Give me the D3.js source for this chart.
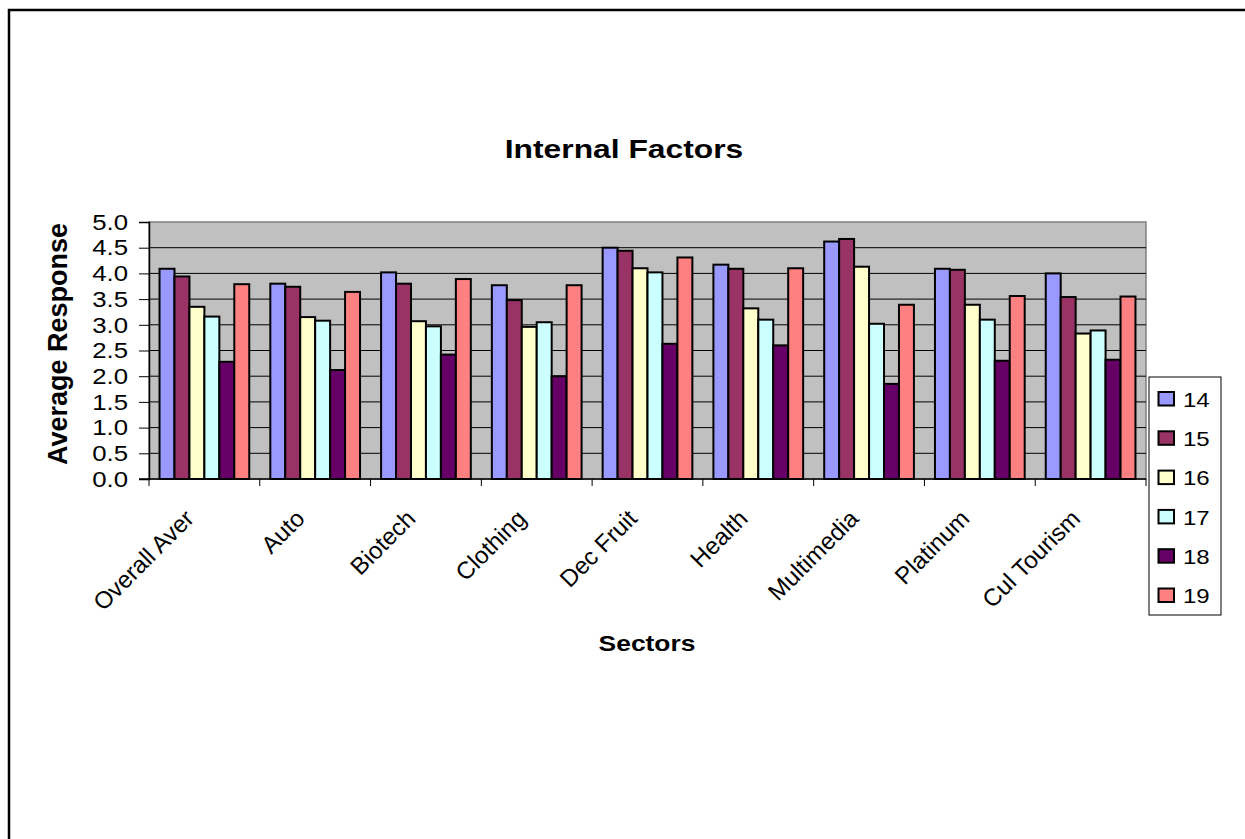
<!DOCTYPE html>
<html><head><meta charset="utf-8">
<script src="https://cdn.jsdelivr.net/npm/d3@7"></script>
<style>body{margin:0;background:#fff;}svg{display:block;}text{font-family:Arial,"Liberation Sans",sans-serif;fill:#000;}</style>
</head><body>
<svg id="chart" width="1245" height="839"></svg>
<script>
const categories = ["Overall Aver","Auto","Biotech","Clothing","Dec Fruit","Health","Multimedia","Platinum","Cul Tourism"];
const seriesNames = ["14","15","16","17","18","19"];
const s14 = [4.09,3.80,4.02,3.77,4.50,4.17,4.62,4.09,4.00];
const s15 = [3.94,3.74,3.80,3.48,4.44,4.09,4.67,4.07,3.54];
const s16 = [3.35,3.15,3.07,2.96,4.10,3.32,4.13,3.39,2.83];
const s17 = [3.16,3.08,2.97,3.05,4.02,3.10,3.02,3.10,2.89];
const s18 = [2.28,2.12,2.42,2.00,2.63,2.60,1.85,2.30,2.32];
const s19 = [3.79,3.64,3.89,3.77,4.31,4.10,3.39,3.56,3.55];
const yTicks = [0,0.5,1,1.5,2,2.5,3,3.5,4,4.5,5];
const colors = ["#9999FF","#993366","#FFFFCC","#CCFFFF","#660066","#FF8080"];
const seriesValues = [s14,s15,s16,s17,s18,s19];

const SX = 1.2; // horizontal stretch of text seen in the reference
const svg = d3.select("#chart");
function stext(parent, x, y, str, size, opts={}) {
  const g = parent.append("g").attr("transform", `translate(${x},${y}) scale(${opts.sx||SX},1)`);
  return g.append("text").attr("font-size", size)
    .attr("font-weight", opts.bold ? "bold" : "normal")
    .attr("text-anchor", opts.anchor || "start").text(str);
}

// outer chart border (left & top visible)
svg.append("rect").attr("x",9).attr("y",10).attr("width",1300).attr("height",900)
  .attr("fill","#fff").attr("stroke","#000").attr("stroke-width",2.5);

const L=149,R=1146,T=222,B=479;
const x0 = d3.scaleBand().domain(categories).range([L,R]).padding(0);
const gap = 0.19;
const x1 = d3.scaleBand().domain(seriesNames)
  .range([x0.bandwidth()*gap/2, x0.bandwidth()*(1-gap/2)]).padding(0);
const y = d3.scaleLinear().domain([0,5]).range([B,T]);

// plot area
svg.append("rect").attr("x",L).attr("y",T).attr("width",R-L).attr("height",B-T)
  .attr("fill","#C0C0C0").attr("stroke","#808080").attr("stroke-width",1.5);
// gridlines
svg.append("g").selectAll("line").data(yTicks.filter(d=>d>0&&d<5)).join("line")
  .attr("x1",L).attr("x2",R).attr("y1",d=>y(d)).attr("y2",d=>y(d))
  .attr("stroke","#000").attr("stroke-width",1);

// bars
const gGroups = svg.append("g").selectAll("g").data(categories).join("g")
  .attr("transform",d=>`translate(${x0(d)},0)`);
gGroups.selectAll("rect").data((c,ci)=>seriesNames.map((s,si)=>({s,si,v:seriesValues[si][ci]}))).join("rect")
  .attr("x",d=>x1(d.s)).attr("width",x1.bandwidth())
  .attr("y",d=>y(d.v)).attr("height",d=>B-y(d.v))
  .attr("fill",d=>colors[d.si]).attr("stroke","#000").attr("stroke-width",2);

// y axis (ticks + line via d3 axis, labels stretched)
const yAxis = d3.axisLeft(y).tickValues(yTicks).tickFormat("").tickSize(10);
const ga = svg.append("g").attr("transform",`translate(${L},0)`).call(yAxis);
ga.select(".domain").attr("stroke","#000").attr("stroke-width",1.5);
ga.selectAll(".tick line").attr("stroke","#000");
const yl = svg.append("g");
yTicks.forEach(t => stext(yl, 128, y(t)+7.7, d3.format(".1f")(t), 21.5, {anchor:"end"}));

// x axis
const xb = svg.append("g");
xb.append("line").attr("x1",L-10).attr("x2",R).attr("y1",B).attr("y2",B).attr("stroke","#000").attr("stroke-width",1.5);
const bounds = categories.map(c=>x0(c)).concat([R]);
xb.selectAll("line.tk").data(bounds).join("line").attr("class","tk")
  .attr("x1",d=>d).attr("x2",d=>d).attr("y1",B).attr("y2",B+7).attr("stroke","#000").attr("stroke-width",1);
xb.selectAll("text").data(categories).join("text")
  .attr("transform",d=>`translate(${x0(d)+x0.bandwidth()/2-9},${B+41}) rotate(-45)`)
  .attr("text-anchor","end").attr("font-size",24).text(d=>d);

// titles
stext(svg, 624, 158, "Internal Factors", 26.5, {bold:true, anchor:"middle"});
svg.append("text").attr("transform","translate(67,344) rotate(-90)").attr("text-anchor","middle")
  .attr("font-size",27).attr("font-weight","bold").text("Average Response");
stext(svg, 647, 651, "Sectors", 22, {bold:true, anchor:"middle"});

// legend
const lg = svg.append("g");
lg.append("rect").attr("x",1149).attr("y",377).attr("width",72).attr("height",238)
  .attr("fill","#fff").attr("stroke","#000").attr("stroke-width",1);
seriesNames.forEach((s,i) => {
  const yy = 391 + i*39.3;
  lg.append("rect").attr("x",1158.5).attr("y",yy+1).attr("width",15.5).attr("height",13.5)
    .attr("fill",colors[i]).attr("stroke","#000").attr("stroke-width",2);
  stext(lg, 1183, yy+15.7, s, 20);
});
</script>
</body></html>
